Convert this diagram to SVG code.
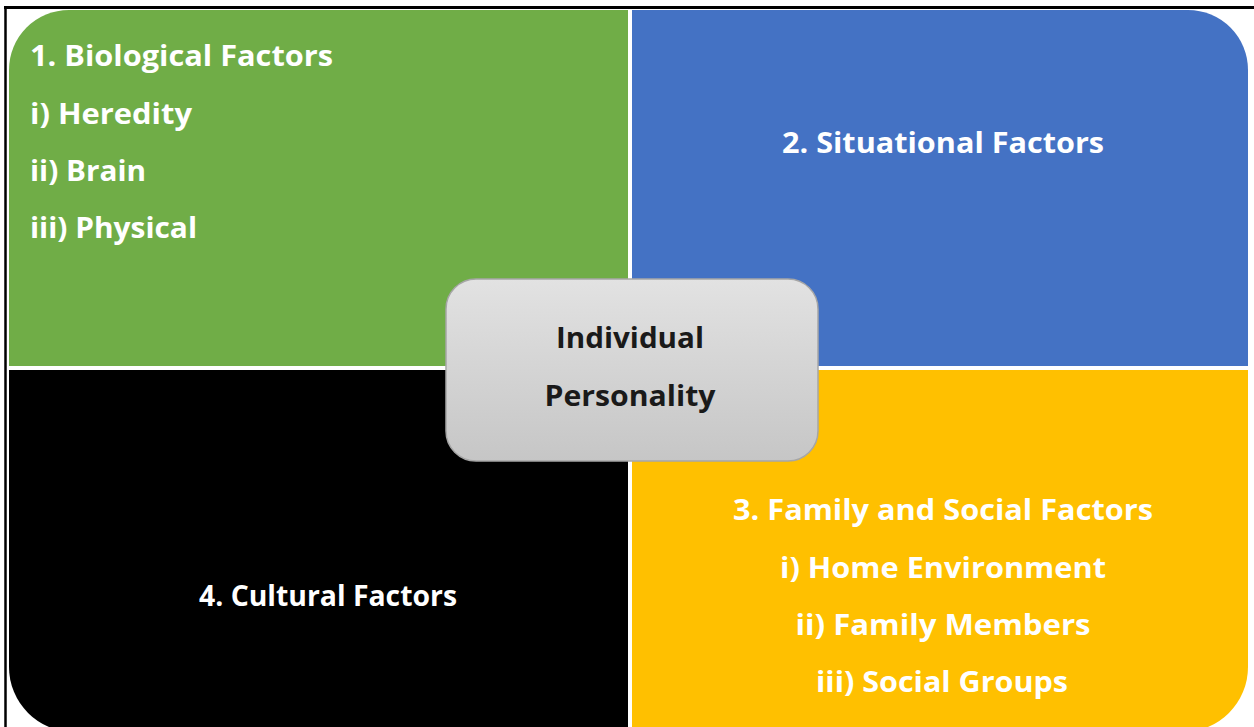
<svg xmlns="http://www.w3.org/2000/svg" width="1254" height="727" viewBox="0 0 1254 727">
  <defs>
    <linearGradient id="boxGrad" x1="0" y1="0" x2="0" y2="1">
      <stop offset="0" stop-color="#e2e2e2"/>
      <stop offset="1" stop-color="#c6c6c6"/>
    </linearGradient>
  </defs>
  <style>
    .lbl { font-family: "Open Sans", "Liberation Sans", Arial, sans-serif; font-weight: bold; font-size: 28px; fill: #ffffff; }
    .ctr { text-anchor: middle; }
    .dark { fill: #1a1a1a; }
  </style>
  <rect x="0" y="0" width="1254" height="727" fill="#ffffff"/>
  <g id="frame">
    <line x1="4" y1="7.5" x2="1254" y2="7.5" stroke="#000" stroke-width="3"/>
    <line x1="5.5" y1="6" x2="5.5" y2="727" stroke="#000" stroke-width="2.5"/>
  </g>
  <g id="biological">
    <path d="M 9 70 A 60 60 0 0 1 69 10 L 628 10 L 628 366 L 9 366 Z" fill="#70ad47"/>
    <text class="lbl" x="30" y="66" textLength="303" lengthAdjust="spacingAndGlyphs">1. Biological Factors</text>
    <text class="lbl" x="30" y="124" textLength="162" lengthAdjust="spacingAndGlyphs">i) Heredity</text>
    <text class="lbl" x="30" y="181" textLength="116" lengthAdjust="spacingAndGlyphs">ii) Brain</text>
    <text class="lbl" x="30" y="238" textLength="167" lengthAdjust="spacingAndGlyphs">iii) Physical</text>
  </g>
  <g id="situational">
    <path d="M 632 10 L 1188 10 A 60 60 0 0 1 1248 70 L 1248 366 L 632 366 Z" fill="#4472c4"/>
    <text class="lbl ctr" x="943" y="153" textLength="322" lengthAdjust="spacingAndGlyphs">2. Situational Factors</text>
  </g>
  <g id="cultural">
    <path d="M 9 370 L 628 370 L 628 732 L 74 732 A 65 65 0 0 1 9 667 Z" fill="#000000"/>
    <text class="lbl ctr" x="328" y="606" textLength="258" lengthAdjust="spacingAndGlyphs">4. Cultural Factors</text>
  </g>
  <g id="family">
    <path d="M 632 370 L 1248 370 L 1248 667 A 65 65 0 0 1 1183 732 L 632 732 Z" fill="#ffc000"/>
    <text class="lbl ctr" x="943" y="520" textLength="420" lengthAdjust="spacingAndGlyphs">3. Family and Social Factors</text>
    <text class="lbl ctr" x="943" y="578" textLength="326" lengthAdjust="spacingAndGlyphs">i) Home Environment</text>
    <text class="lbl ctr" x="943" y="635" textLength="295" lengthAdjust="spacingAndGlyphs">ii) Family Members</text>
    <text class="lbl ctr" x="942" y="692" textLength="252" lengthAdjust="spacingAndGlyphs">iii) Social Groups</text>
  </g>
  <g id="individual">
    <rect x="446" y="279" width="372" height="182" rx="30" ry="30" fill="url(#boxGrad)" stroke="#a6a6a6" stroke-width="1.5"/>
    <text class="lbl ctr dark" x="630" y="348" textLength="148" lengthAdjust="spacingAndGlyphs">Individual</text>
    <text class="lbl ctr dark" x="630" y="406" textLength="171" lengthAdjust="spacingAndGlyphs">Personality</text>
  </g>
  <g id="connectors"></g>
</svg>
